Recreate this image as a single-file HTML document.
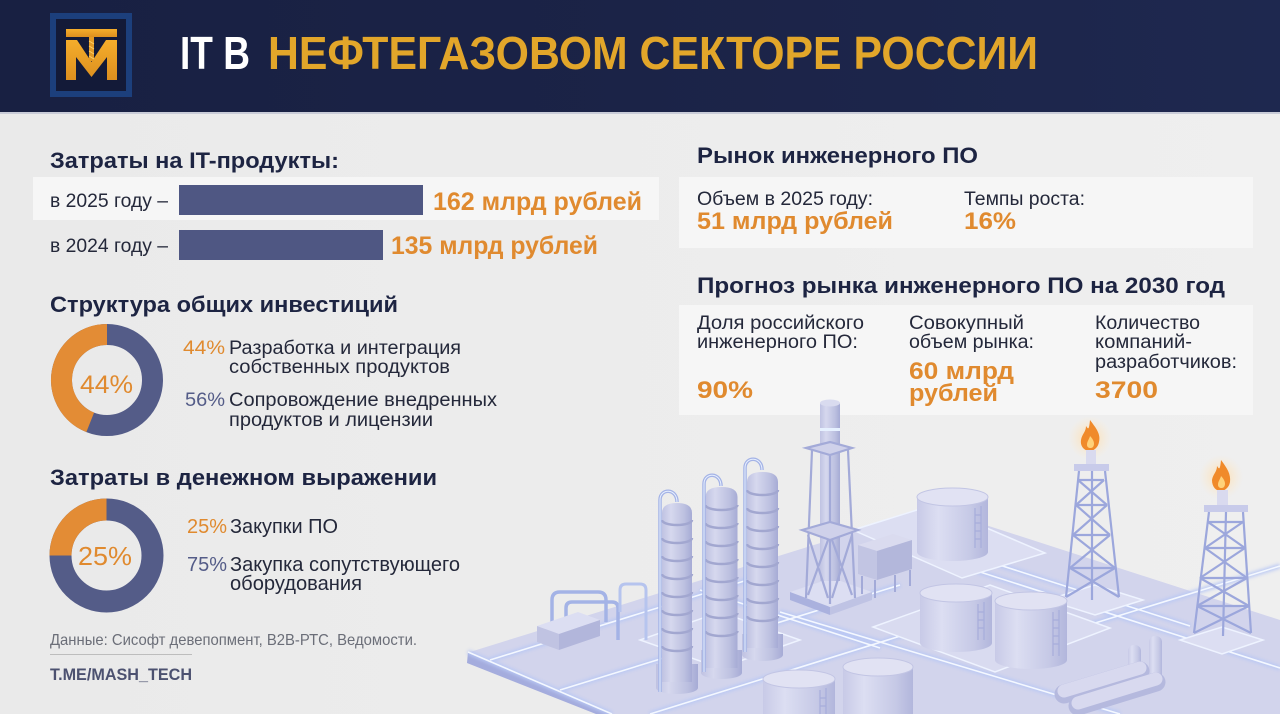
<!DOCTYPE html>
<html><head><meta charset="utf-8"><style>
html,body{margin:0;padding:0;background:#ececec;}
svg{display:block;}
text{font-family:"Liberation Sans","DejaVu Sans",sans-serif;}
.b{font-weight:bold;}
</style></head><body>
<svg width="1280" height="714" viewBox="0 0 1280 714" xmlns="http://www.w3.org/2000/svg">
<defs>
<linearGradient id="hdr" x1="0" x2="1" y1="0" y2="0"><stop offset="0" stop-color="#182042"/><stop offset=".5" stop-color="#1b2347"/><stop offset="1" stop-color="#1e284f"/></linearGradient>
<linearGradient id="bg" x1="0" x2="1" y1="0" y2="0"><stop offset="0" stop-color="#eaeaea"/><stop offset="1" stop-color="#efefef"/></linearGradient>
<linearGradient id="gold" x1="0" x2="0" y1="0" y2="1"><stop offset="0" stop-color="#f5ad2b"/><stop offset="1" stop-color="#dc8f1f"/></linearGradient>
<linearGradient id="cyl" x1="0" x2="1" y1="0" y2="0"><stop offset="0" stop-color="#bfc2e2"/><stop offset=".3" stop-color="#d6d8ee"/><stop offset=".75" stop-color="#bcc0e0"/><stop offset="1" stop-color="#a6abd5"/></linearGradient>
<linearGradient id="tank" x1="0" x2="1" y1="0" y2="0"><stop offset="0" stop-color="#c8cae7"/><stop offset=".3" stop-color="#dcdef2"/><stop offset=".75" stop-color="#c6c9e6"/><stop offset="1" stop-color="#b2b6dc"/></linearGradient>
<radialGradient id="glow"><stop offset="0" stop-color="#ffd9a0" stop-opacity=".9"/><stop offset="1" stop-color="#ffe9c8" stop-opacity="0"/></radialGradient>
<filter id="blur" x="-20%" y="-20%" width="140%" height="140%"><feGaussianBlur stdDeviation="1.6"/></filter>
</defs>

<!-- backgrounds -->
<rect x="0" y="0" width="1280" height="714" fill="url(#bg)"/>
<rect x="0" y="0" width="1280" height="113" fill="url(#hdr)"/>
<rect x="0" y="112" width="1280" height="2" fill="#c9ccd8"/>

<!-- logo -->
<rect x="53" y="16" width="76" height="78" fill="#131a38" stroke="#1c3f7c" stroke-width="6"/>
<rect x="66" y="29" width="51" height="8" fill="url(#gold)"/>
<polygon points="66,40 77,40 91.5,62 106,40 117,40 117,80 107,80 107,57 91.5,77 76,57 76,80 66,80" fill="url(#gold)"/>
<rect x="89" y="37" width="5" height="24" fill="#e39a25"/>
<path d="M89,41 L94,44 M89,46 L94,49 M89,51 L94,54 M89,56 L94,59" stroke="#ffd06a" stroke-width="1"/>

<!-- header title -->
<text x="180" y="69" class="b" font-size="46" fill="#ffffff" textLength="70" lengthAdjust="spacingAndGlyphs">IT В</text>
<text x="268" y="69" class="b" font-size="46" fill="#e2a62a" textLength="770" lengthAdjust="spacingAndGlyphs">НЕФТЕГАЗОВОМ СЕКТОРЕ РОССИИ</text>

<!-- LEFT: costs -->
<text x="50" y="168" class="b" font-size="22" fill="#1d2442" textLength="289" lengthAdjust="spacingAndGlyphs">Затраты на IT-продукты:</text>
<rect x="33" y="177" width="626" height="43" fill="#f6f6f6"/>
<text x="50" y="207" font-size="19" fill="#24283a" textLength="118" lengthAdjust="spacingAndGlyphs">в 2025 году –</text>
<rect x="179" y="185" width="244" height="30" fill="#4f5783"/>
<text x="433" y="210" class="b" font-size="25" fill="#e08a2f" textLength="209" lengthAdjust="spacingAndGlyphs">162 млрд рублей</text>
<text x="50" y="252" font-size="19" fill="#24283a" textLength="118" lengthAdjust="spacingAndGlyphs">в 2024 году –</text>
<rect x="179" y="230" width="204" height="30" fill="#4f5783"/>
<text x="391" y="254" class="b" font-size="25" fill="#e08a2f" textLength="207" lengthAdjust="spacingAndGlyphs">135 млрд рублей</text>

<!-- structure -->
<text x="50" y="312" class="b" font-size="22" fill="#1d2442" textLength="348" lengthAdjust="spacingAndGlyphs">Структура общих инвестиций</text>
<circle cx="107" cy="380" r="45.5" fill="none" stroke="#545c88" stroke-width="21"/>
<path d="M90.25,422.3 A45.5,45.5 0 0 1 107,334.5" fill="none" stroke="#e38c35" stroke-width="21"/>
<text x="80" y="393" font-size="25" fill="#e08a2f" textLength="53" lengthAdjust="spacingAndGlyphs">44%</text>
<text x="183" y="354" font-size="19" fill="#e08a2f" textLength="42" lengthAdjust="spacingAndGlyphs">44%</text>
<text x="229" y="354" font-size="19" fill="#24283a" textLength="232" lengthAdjust="spacingAndGlyphs">Разработка и интеграция</text>
<text x="229" y="373" font-size="19" fill="#24283a" textLength="221" lengthAdjust="spacingAndGlyphs">собственных продуктов</text>
<text x="185" y="406" font-size="19" fill="#545c88" textLength="40" lengthAdjust="spacingAndGlyphs">56%</text>
<text x="229" y="406" font-size="19" fill="#24283a" textLength="268" lengthAdjust="spacingAndGlyphs">Сопровождение внедренных</text>
<text x="229" y="426" font-size="19" fill="#24283a" textLength="204" lengthAdjust="spacingAndGlyphs">продуктов и лицензии</text>

<!-- money -->
<text x="50" y="485" class="b" font-size="22" fill="#1d2442" textLength="387" lengthAdjust="spacingAndGlyphs">Затраты в денежном выражении</text>
<circle cx="106.5" cy="555.5" r="46" fill="none" stroke="#545c88" stroke-width="22"/>
<path d="M60.5,555.5 A46,46 0 0 1 106.5,509.5" fill="none" stroke="#e38c35" stroke-width="22"/>
<text x="78" y="565" font-size="26" fill="#e08a2f" textLength="54" lengthAdjust="spacingAndGlyphs">25%</text>
<text x="187" y="533" font-size="20" fill="#e08a2f" textLength="40" lengthAdjust="spacingAndGlyphs">25%</text>
<text x="230" y="533" font-size="20" fill="#24283a" textLength="108" lengthAdjust="spacingAndGlyphs">Закупки ПО</text>
<text x="187" y="571" font-size="20" fill="#545c88" textLength="40" lengthAdjust="spacingAndGlyphs">75%</text>
<text x="230" y="571" font-size="20" fill="#24283a" textLength="230" lengthAdjust="spacingAndGlyphs">Закупка сопутствующего</text>
<text x="230" y="590" font-size="20" fill="#24283a" textLength="132" lengthAdjust="spacingAndGlyphs">оборудования</text>

<text x="50" y="645" font-size="16" fill="#6b6e78" textLength="367" lengthAdjust="spacingAndGlyphs">Данные: Сисофт девепопмент, B2B-РТС, Ведомости.</text>
<rect x="50" y="654" width="142" height="1" fill="#bdbdbd"/>
<text x="50" y="680" class="b" font-size="17" fill="#4c5170" textLength="142" lengthAdjust="spacingAndGlyphs">T.ME/MASH_TECH</text>

<!-- RIGHT -->
<text x="697" y="163" class="b" font-size="22" fill="#1d2442" textLength="281" lengthAdjust="spacingAndGlyphs">Рынок инженерного ПО</text>
<rect x="679" y="177" width="574" height="71" fill="#f6f6f6"/>
<text x="697" y="205" font-size="19" fill="#24283a" textLength="176" lengthAdjust="spacingAndGlyphs">Объем в 2025 году:</text>
<text x="697" y="229" class="b" font-size="24" fill="#e08a2f" textLength="196" lengthAdjust="spacingAndGlyphs">51 млрд рублей</text>
<text x="964" y="205" font-size="19" fill="#24283a" textLength="121" lengthAdjust="spacingAndGlyphs">Темпы роста:</text>
<text x="964" y="229" class="b" font-size="24" fill="#e08a2f" textLength="52" lengthAdjust="spacingAndGlyphs">16%</text>

<text x="697" y="293" class="b" font-size="22" fill="#1d2442" textLength="528" lengthAdjust="spacingAndGlyphs">Прогноз рынка инженерного ПО на 2030 год</text>
<rect x="679" y="305" width="574" height="110" fill="#f6f6f6"/>
<text x="697" y="329" font-size="19" fill="#24283a" textLength="167" lengthAdjust="spacingAndGlyphs">Доля российского</text>
<text x="697" y="348" font-size="19" fill="#24283a" textLength="161" lengthAdjust="spacingAndGlyphs">инженерного ПО:</text>
<text x="697" y="398" class="b" font-size="24" fill="#e08a2f" textLength="56" lengthAdjust="spacingAndGlyphs">90%</text>
<text x="909" y="329" font-size="19" fill="#24283a" textLength="115" lengthAdjust="spacingAndGlyphs">Совокупный</text>
<text x="909" y="348" font-size="19" fill="#24283a" textLength="125" lengthAdjust="spacingAndGlyphs">объем рынка:</text>
<text x="909" y="379" class="b" font-size="24" fill="#e08a2f" textLength="105" lengthAdjust="spacingAndGlyphs">60 млрд</text>
<text x="909" y="401" class="b" font-size="24" fill="#e08a2f" textLength="89" lengthAdjust="spacingAndGlyphs">рублей</text>
<text x="1095" y="329" font-size="19" fill="#24283a" textLength="105" lengthAdjust="spacingAndGlyphs">Количество</text>
<text x="1095" y="348" font-size="19" fill="#24283a" textLength="97" lengthAdjust="spacingAndGlyphs">компаний-</text>
<text x="1095" y="368" font-size="19" fill="#24283a" textLength="142" lengthAdjust="spacingAndGlyphs">разработчиков:</text>
<text x="1095" y="398" class="b" font-size="24" fill="#e08a2f" textLength="63" lengthAdjust="spacingAndGlyphs">3700</text>

<!-- ILLUSTRATION -->
<!-- platform -->
<polygon points="470,652 933,508 1280,620 1280,714 612,714" fill="#d2d4ec"/>
<polygon points="468,652 612,714 596,714 467,663" fill="#a4acdd"/>
<g stroke="#b9c8f4" stroke-width="5" fill="none" filter="url(#blur)" opacity=".9">
<path d="M468,652 L612,714"/>
<path d="M490,660 L770,573"/><path d="M560,690 L900,585"/><path d="M650,714 L1000,605"/>
<path d="M880,540 L1280,668"/><path d="M780,612 L1120,714"/><path d="M990,562 L1190,626"/>
<path d="M700,590 L880,648"/><path d="M1040,640 L1280,566"/>
</g>
<g stroke="#f4f8ff" stroke-width="1.6" fill="none">
<path d="M468,652 L612,714"/>
<path d="M490,660 L770,573"/><path d="M560,690 L900,585"/><path d="M650,714 L1000,605"/>
<path d="M880,540 L1280,668"/><path d="M780,612 L1120,714"/><path d="M990,562 L1190,626"/>
<path d="M700,590 L880,648"/><path d="M1040,640 L1280,566"/>
</g>

<!-- pads -->
<polygon points="853,530 933,505 1045,553 962,578" fill="#dcdef2" stroke="#eef3ff" stroke-width="1.5"/>
<polygon points="873,627 990,585 1110,628 995,672" fill="#d9dbf0" stroke="#eef3ff" stroke-width="1.5"/>
<polygon points="1047,600 1095,585 1143,600 1095,615" fill="#dcdef2" stroke="#eef3ff" stroke-width="1.5"/>
<polygon points="1180,640 1222,627 1263,640 1222,654" fill="#dcdef2" stroke="#eef3ff" stroke-width="1.5"/>
<polygon points="640,640 720,612 800,640 720,668" fill="#d8daf0" stroke="#eef3ff" stroke-width="1.5"/>

<!-- tank T1 -->
<path d="M917,497 L917,552 A35.5,9 0 0 0 988,552 L988,497 Z" fill="url(#tank)"/>
<ellipse cx="952.5" cy="497" rx="35.5" ry="9" fill="#e1e2f3" stroke="#c2c5e4"/>
<path d="M975,508 L975,548 M981,506 L981,548 M975,515 L981,515 M975,523 L981,523 M975,531 L981,531 M975,539 L981,539" stroke="#a7addb" stroke-width="1.2"/>

<!-- stack pad -->
<polygon points="790,592 832,578 872,592 830,607" fill="#dcdef2"/>
<polygon points="790,592 830,607 830,615 790,600" fill="#aab1de"/>
<polygon points="830,607 872,592 872,600 830,615" fill="#bfc3e4"/>
<!-- tall stack -->
<rect x="820" y="403" width="20" height="178" fill="url(#cyl)"/>
<ellipse cx="830" cy="403" rx="10" ry="3.5" fill="#d9dbef"/>
<rect x="820" y="428" width="20" height="3" fill="#e6f1ff"/>
<g stroke="#a3aad8" stroke-width="2.2" fill="none">
<path d="M812,450 L806,598 M848,450 L855,598 M830,456 L830,604"/>
<path d="M806,448 L830,442 L852,448 L830,455 Z" fill="#cfd1ea"/>
<path d="M802,530 L830,522 L858,530 L830,540 Z" fill="#cfd1ea"/>
<path d="M808,535 L828,598 M828,540 L808,595 M852,535 L832,598 M832,540 L852,595"/>
</g>
<!-- box unit -->
<polygon points="858,545 893,534 912,540 877,551" fill="#dadbef"/>
<polygon points="858,545 877,551 877,580 858,574" fill="#c2c5e3"/>
<polygon points="877,551 912,540 912,569 877,580" fill="#b3b7db"/>
<path d="M862,576 L862,594 M875,580 L875,598 M895,575 L895,592 M910,570 L910,586" stroke="#a3aad8" stroke-width="2"/>

<!-- flare tower 1 -->
<circle cx="1090" cy="438" r="22" fill="url(#glow)"/>
<path d="M1090,420 C1096,428 1101,434 1099,442 C1098,448 1093,451 1090,451 C1085,451 1080,447 1081,440 C1082,434 1086,432 1086,426 C1088,429 1089,431 1090,420 Z" fill="#f08a2a"/>
<path d="M1090,436 C1094,440 1095,444 1093,447 C1091,449 1087,448 1087,445 C1087,441 1089,440 1090,436 Z" fill="#ffd27a"/>
<rect x="1086" y="450" width="10" height="16" fill="#d9daef"/>
<rect x="1074" y="464" width="35" height="7" fill="#c8cbea"/>
<g stroke="#9ca7dc" stroke-width="2.2" fill="none">
<path d="M1079,471 L1066,597 M1105,471 L1119,597 M1092,471 L1092,600"/>
<path d="M1078,480 L1104,480 M1076,505 L1107,505 M1073,535 L1110,535 M1070,568 L1115,568"/>
<path d="M1078,480 L1107,505 M1104,480 L1076,505 M1076,505 L1110,535 M1107,505 L1073,535 M1073,535 L1115,568 M1110,535 L1070,568 M1070,568 L1119,597 M1115,568 L1066,597"/>
</g>
<!-- flare tower 2 -->
<circle cx="1221" cy="477" r="22" fill="url(#glow)"/>
<path d="M1221,460 C1227,468 1231,474 1230,482 C1229,488 1224,491 1221,491 C1216,491 1212,487 1212,480 C1213,474 1217,472 1217,466 C1219,469 1220,471 1221,460 Z" fill="#f08a2a"/>
<path d="M1221,476 C1225,480 1226,484 1224,487 C1222,489 1218,488 1218,485 C1218,481 1220,480 1221,476 Z" fill="#ffd27a"/>
<rect x="1217" y="490" width="11" height="16" fill="#d9daef"/>
<rect x="1204" y="505" width="44" height="7" fill="#c8cbea"/>
<g stroke="#9ca7dc" stroke-width="2.2" fill="none">
<path d="M1209,512 L1194,633 M1243,512 L1251,633 M1226,512 L1223,636"/>
<path d="M1208,522 L1243,522 M1205,548 L1245,548 M1200,578 L1247,578 M1197,606 L1249,606"/>
<path d="M1208,522 L1245,548 M1243,522 L1205,548 M1205,548 L1247,578 M1245,548 L1200,578 M1200,578 L1249,606 M1247,578 L1197,606 M1197,606 L1251,633 M1249,606 L1194,633"/>
</g>

<!-- columns -->
<g>
<!-- col C -->
<path d="M742,634 L742,655 A20.5,6 0 0 0 783,655 L783,634 Z" fill="url(#cyl)"/>
<path d="M747,482 Q747,472 762.5,472 Q778,472 778,482 L778,648 L747,648 Z" fill="url(#cyl)"/>
<path d="M747,490 A15.5,5 0 0 0 778,490 M747,508 A15.5,5 0 0 0 778,508 M747,526 A15.5,5 0 0 0 778,526 M747,544 A15.5,5 0 0 0 778,544 M747,562 A15.5,5 0 0 0 778,562 M747,580 A15.5,5 0 0 0 778,580 M747,598 A15.5,5 0 0 0 778,598 M747,616 A15.5,5 0 0 0 778,616" stroke="#a2a7d0" stroke-width="2.5" fill="none"/>
<path d="M762,470 C762,456 745,456 745,468 L745,652" stroke="#a4b3e6" stroke-width="3.5" fill="none"/>
<path d="M762,470 C762,456 745,456 745,468 L745,652" stroke="#e8f0ff" stroke-width="1" fill="none"/>
<!-- col B -->
<path d="M701,650 L701,673 A20.5,6 0 0 0 742,673 L742,650 Z" fill="url(#cyl)"/>
<path d="M705.5,497 Q705.5,487 721.5,487 Q737.5,487 737.5,497 L737.5,668 L705.5,668 Z" fill="url(#cyl)"/>
<path d="M705.5,505 A16,5 0 0 0 737.5,505 M705.5,523 A16,5 0 0 0 737.5,523 M705.5,541 A16,5 0 0 0 737.5,541 M705.5,559 A16,5 0 0 0 737.5,559 M705.5,577 A16,5 0 0 0 737.5,577 M705.5,595 A16,5 0 0 0 737.5,595 M705.5,613 A16,5 0 0 0 737.5,613 M705.5,631 A16,5 0 0 0 737.5,631" stroke="#a2a7d0" stroke-width="2.5" fill="none"/>
<path d="M721,486 C721,472 704,472 704,484 L704,672" stroke="#a4b3e6" stroke-width="3.5" fill="none"/>
<path d="M721,486 C721,472 704,472 704,484 L704,672" stroke="#e8f0ff" stroke-width="1" fill="none"/>
<!-- col A -->
<path d="M656,664 L656,688 A21,6 0 0 0 698,688 L698,664 Z" fill="url(#cyl)"/>
<path d="M662,513 Q662,503 677,503 Q692,503 692,513 L692,682 L662,682 Z" fill="url(#cyl)"/>
<path d="M662,520 A15,5 0 0 0 692,520 M662,538 A15,5 0 0 0 692,538 M662,556 A15,5 0 0 0 692,556 M662,574 A15,5 0 0 0 692,574 M662,592 A15,5 0 0 0 692,592 M662,610 A15,5 0 0 0 692,610 M662,628 A15,5 0 0 0 692,628 M662,646 A15,5 0 0 0 692,646" stroke="#a2a7d0" stroke-width="2.5" fill="none"/>
<path d="M677,502 C677,488 660,488 660,500 L660,692" stroke="#a4b3e6" stroke-width="3.5" fill="none"/>
<path d="M677,502 C677,488 660,488 660,500 L660,692" stroke="#e8f0ff" stroke-width="1" fill="none"/>
</g>

<!-- left box + pipes -->
<path d="M552,628 L552,600 Q552,592 560,592 L598,592 Q606,592 606,600 L606,622" stroke="#a4b3e6" stroke-width="3.5" fill="none"/>
<path d="M566,624 L566,608 Q566,602 572,602 L612,602 Q618,602 618,608 L618,640" stroke="#a4b3e6" stroke-width="3.5" fill="none"/>
<path d="M620,612 L620,590 Q620,584 626,584 L640,584 Q646,584 646,590 L646,640" stroke="#b6c4ee" stroke-width="3" fill="none"/>
<polygon points="537,626 578,612 600,620 559,634" fill="#dcdef2"/>
<polygon points="537,626 559,634 559,650 537,642" fill="#c0c3e2"/>
<polygon points="559,634 600,620 600,636 559,650" fill="#b2b6db"/>

<!-- tanks T2, T3 -->
<path d="M920,593 L920,643 A36,9 0 0 0 992,643 L992,593 Z" fill="url(#tank)"/>
<ellipse cx="956" cy="593" rx="36" ry="9" fill="#e1e2f3" stroke="#c2c5e4"/>
<path d="M978,604 L978,640 M984,602 L984,640 M978,612 L984,612 M978,620 L984,620 M978,628 L984,628" stroke="#a7addb" stroke-width="1.2"/>
<path d="M995,601 L995,660 A36,9 0 0 0 1067,660 L1067,601 Z" fill="url(#tank)"/>
<ellipse cx="1031" cy="601" rx="36" ry="9" fill="#e1e2f3" stroke="#c2c5e4"/>
<path d="M1053,612 L1053,656 M1059,610 L1059,656 M1053,620 L1059,620 M1053,628 L1059,628 M1053,636 L1059,636 M1053,644 L1059,644" stroke="#a7addb" stroke-width="1.2"/>

<!-- vessels -->
<rect x="1128" y="645" width="13" height="45" rx="6" fill="url(#tank)"/>
<rect x="1149" y="636" width="13" height="44" rx="6" fill="url(#tank)"/>
<path d="M1064,694 L1140,671" stroke="#b5b9de" stroke-width="19" stroke-linecap="round"/>
<path d="M1064,691 L1140,668" stroke="#d8d9ef" stroke-width="13" stroke-linecap="round"/>
<path d="M1078,706 L1156,682" stroke="#b5b9de" stroke-width="19" stroke-linecap="round"/>
<path d="M1078,703 L1156,679" stroke="#d8d9ef" stroke-width="13" stroke-linecap="round"/>

<!-- tanks T5, T4 -->
<path d="M843,667 L843,730 L913,730 L913,667 Z" fill="url(#tank)"/>
<ellipse cx="878" cy="667" rx="35" ry="9" fill="#e1e2f3" stroke="#c2c5e4"/>
<path d="M763,679 L763,730 L835,730 L835,679 Z" fill="url(#tank)"/>
<ellipse cx="799" cy="679" rx="36" ry="9" fill="#e1e2f3" stroke="#c2c5e4"/>
<path d="M820,690 L820,714 M826,688 L826,714 M820,698 L826,698 M820,706 L826,706" stroke="#a7addb" stroke-width="1.2"/>
</svg>
</body></html>
